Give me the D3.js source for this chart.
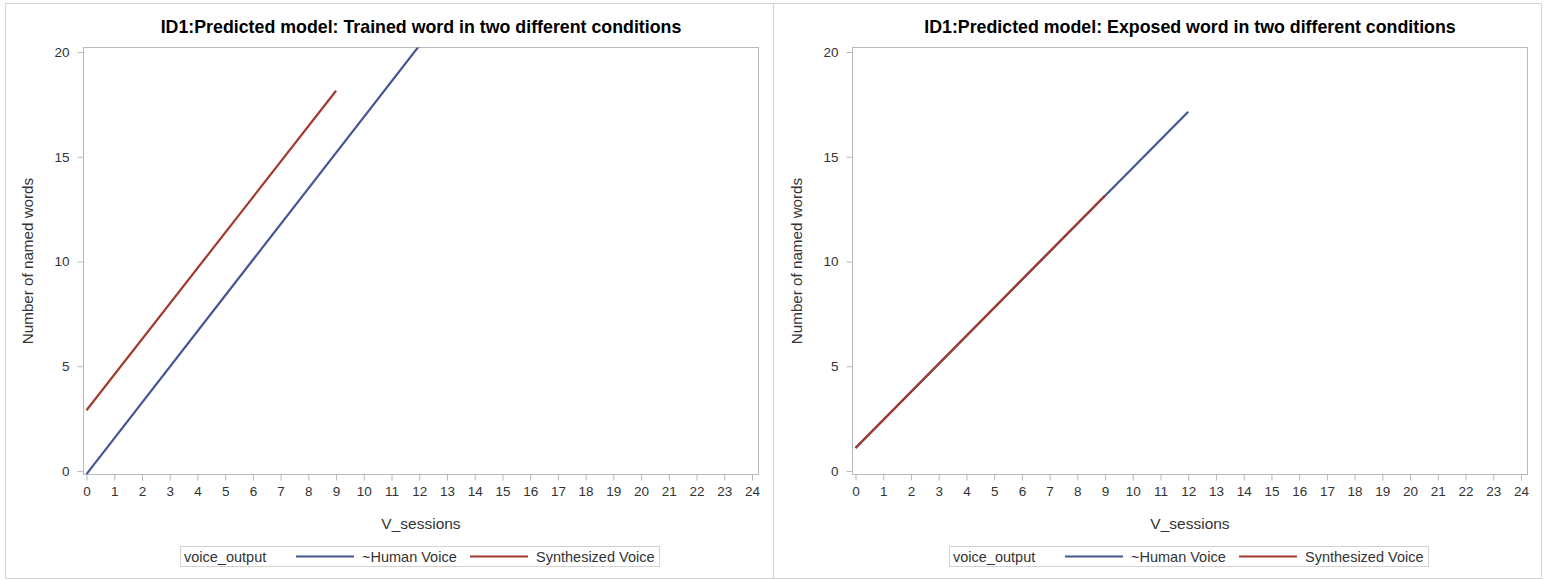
<!DOCTYPE html>
<html>
<head>
<meta charset="utf-8">
<script src="https://cdn.jsdelivr.net/npm/d3@7"></script>
<style>
  html, body { margin: 0; padding: 0; background: #fff; }
  svg { display: block; font-family: "Liberation Sans", Arial, sans-serif; }
</style>
</head>
<body>
<svg id="chart" width="1547" height="580"></svg>
<script>
// Predicted number of named words per session, by voice output condition
const sessionTicks = d3.range(0, 25);
const wordTicks = [0, 5, 10, 15, 20];
const seriesNames = ["~Human Voice", "Synthesized Voice"];
const seriesColors = ["#445694", "#A23A2E"];

const panelTitles = [
  "ID1:Predicted model: Trained word in two different conditions",
  "ID1:Predicted model: Exposed word in two different conditions"
];

// Trained word: session endpoints and predicted values
const trainedHumanSessions = [0, 12];
const trainedHumanWords = [-0.15, 20.3];
const trainedSynthSessions = [0, 9];
const trainedSynthWords = [2.9, 18.15];

// Exposed word: session endpoints and predicted values
const exposedHumanSessions = [0, 12];
const exposedHumanWords = [1.1, 17.15];
const exposedSynthSessions = [0, 9];
const exposedSynthWords = [1.1, 13.15];

const panels = [
  {
    title: panelTitles[0],
    series: [
      { name: seriesNames[0], x: trainedHumanSessions, y: trainedHumanWords },
      { name: seriesNames[1], x: trainedSynthSessions, y: trainedSynthWords }
    ]
  },
  {
    title: panelTitles[1],
    series: [
      { name: seriesNames[0], x: exposedHumanSessions, y: exposedHumanWords },
      { name: seriesNames[1], x: exposedSynthSessions, y: exposedSynthWords }
    ]
  }
];

const svg = d3.select("#chart");
const color = d3.scaleOrdinal().domain(seriesNames).range(seriesColors);

const frameColor = "#B4BAC0";
const textColor = "#333";

// outer panel frames
svg.append("rect").attr("x", 5.5).attr("y", 3.5).attr("width", 768).attr("height", 575)
  .attr("fill", "none").attr("stroke", "#D3D3D3");
svg.append("rect").attr("x", 773.5).attr("y", 3.5).attr("width", 768).attr("height", 575)
  .attr("fill", "none").attr("stroke", "#D3D3D3");

panels.forEach((p, i) => {
  const ox = i * 769;
  const g = svg.append("g").attr("transform", `translate(${ox},0)`);

  const frame = { left: 83.5, right: 758.5, top: 47.5, bottom: 474.5 };

  const x = d3.scaleLinear().domain([0, 24]).range([86.5, 752]);
  const y = d3.scaleLinear().domain([0, 20]).range([471, 52]);

  // title
  g.append("text")
    .attr("x", (frame.left + frame.right) / 2)
    .attr("y", 33)
    .attr("text-anchor", "middle")
    .attr("font-size", 17.8)
    .attr("font-weight", "bold")
    .attr("fill", "#000")
    .text(p.title);

  // clip region for the lines
  const clipId = "clip" + i;
  g.append("clipPath").attr("id", clipId)
    .append("rect")
    .attr("x", frame.left).attr("y", frame.top)
    .attr("width", frame.right - frame.left).attr("height", frame.bottom - frame.top);

  // x axis
  const xAxis = g.append("g")
    .attr("transform", `translate(0,${frame.bottom})`)
    .call(d3.axisBottom(x).tickValues(sessionTicks).tickSize(6).tickPadding(6).tickFormat(d3.format("d")));
  xAxis.select(".domain").remove();
  xAxis.selectAll(".tick line").attr("stroke", frameColor);
  xAxis.selectAll(".tick text").attr("fill", textColor).attr("font-size", 13.5)
    .attr("font-family", "Liberation Sans, Arial, sans-serif");

  // y axis
  const yAxis = g.append("g")
    .attr("transform", `translate(${frame.left},0)`)
    .call(d3.axisLeft(y).tickValues(wordTicks).tickSize(6).tickPadding(8));
  yAxis.select(".domain").remove();
  yAxis.selectAll(".tick line").attr("stroke", frameColor);
  yAxis.selectAll(".tick text").attr("fill", textColor).attr("font-size", 13.5)
    .attr("font-family", "Liberation Sans, Arial, sans-serif");

  // plot frame
  g.append("rect")
    .attr("x", frame.left).attr("y", frame.top)
    .attr("width", frame.right - frame.left).attr("height", frame.bottom - frame.top)
    .attr("fill", "none").attr("stroke", frameColor);

  // axis labels
  g.append("text")
    .attr("x", (frame.left + frame.right) / 2)
    .attr("y", 529)
    .attr("text-anchor", "middle")
    .attr("font-size", 15.5)
    .attr("fill", textColor)
    .text("V_sessions");

  g.append("text")
    .attr("transform", `translate(33,${(frame.top + frame.bottom) / 2}) rotate(-90)`)
    .attr("text-anchor", "middle")
    .attr("font-size", 15.2)
    .attr("fill", textColor)
    .text("Number of named words");

  // series lines
  const line = d3.line().x(d => x(d[0])).y(d => y(d[1]));
  g.append("g").attr("clip-path", `url(#${clipId})`)
    .selectAll("path")
    .data(p.series)
    .join("path")
    .attr("d", s => line(s.x.map((v, k) => [v, s.y[k]])))
    .attr("fill", "none")
    .attr("stroke", s => color(s.name))
    .attr("stroke-width", 2.2);

  // legend
  const lg = g.append("g");
  lg.append("rect")
    .attr("x", 180.5).attr("y", 546.5).attr("width", 479).attr("height", 20)
    .attr("fill", "#fff").attr("stroke", "#D3D3D3");
  lg.append("text")
    .attr("x", 184).attr("y", 561.5)
    .attr("font-size", 14.5).attr("fill", textColor)
    .text("voice_output");
  const entryX = [296, 470];
  seriesNames.forEach((n, k) => {
    lg.append("line")
      .attr("x1", entryX[k]).attr("x2", entryX[k] + 58)
      .attr("y1", 556.5).attr("y2", 556.5)
      .attr("stroke", color(n)).attr("stroke-width", 2.2);
    lg.append("text")
      .attr("x", entryX[k] + 66).attr("y", 561.5)
      .attr("font-size", 14.5).attr("fill", textColor)
      .text(n);
  });
});
</script>
</body>
</html>
